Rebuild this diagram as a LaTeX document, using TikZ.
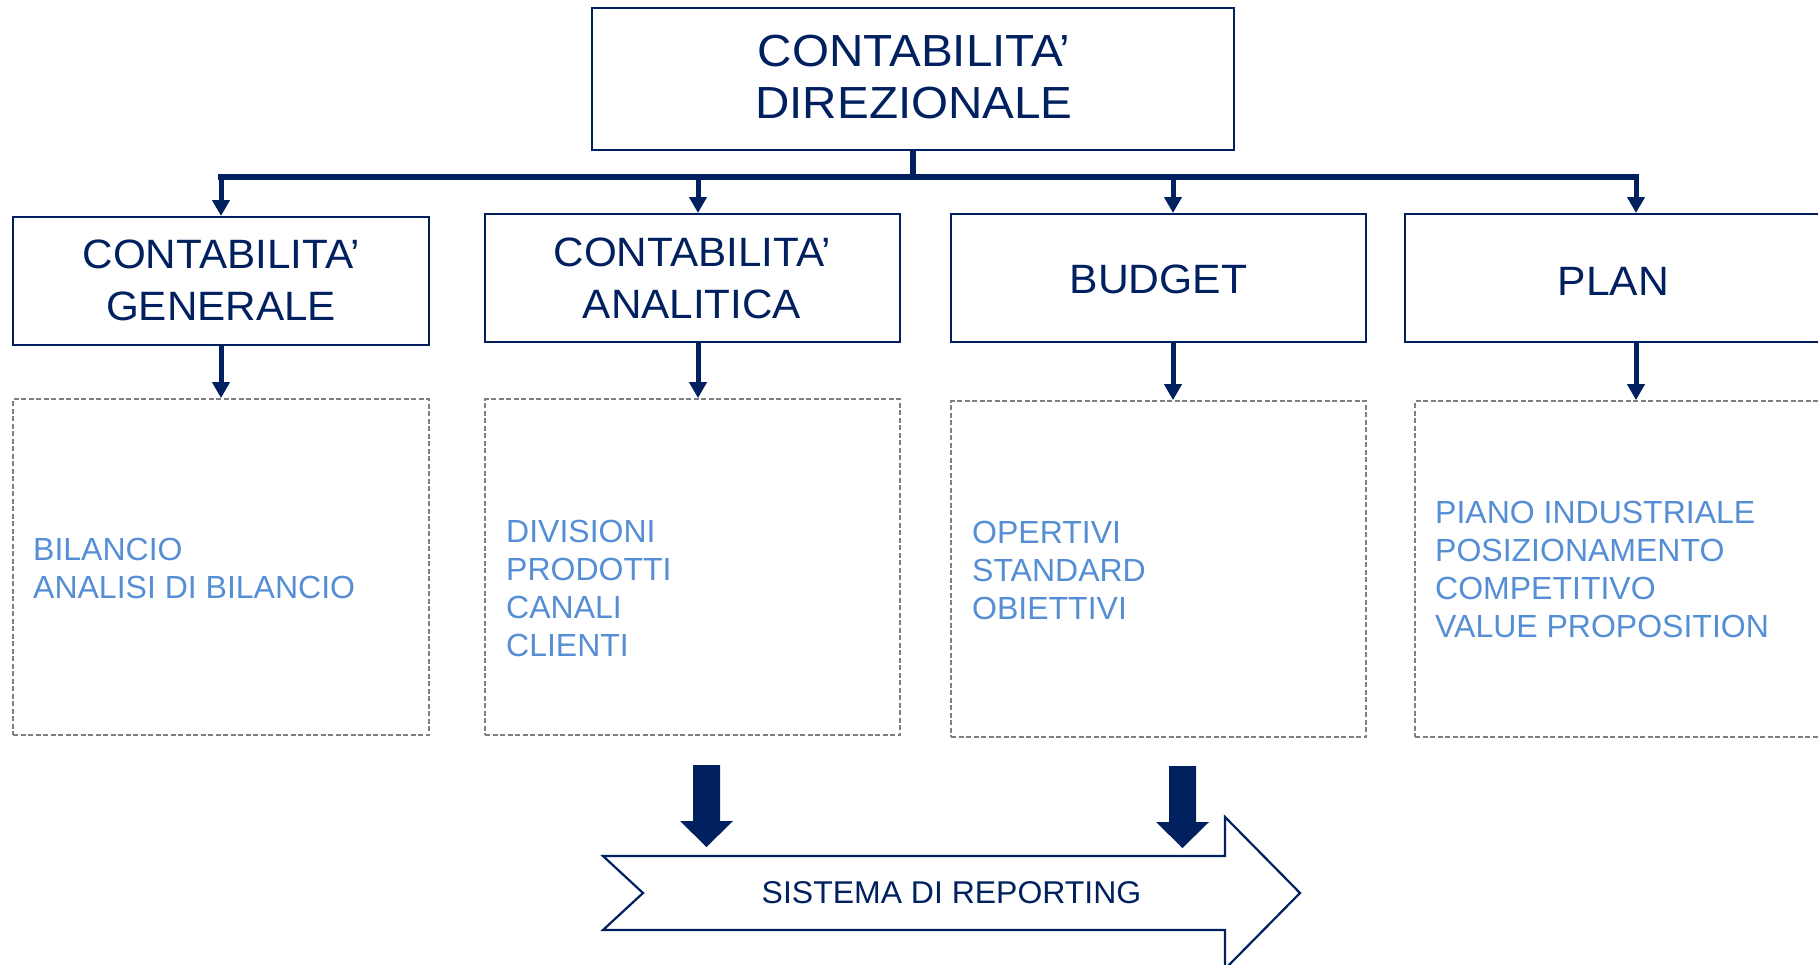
\documentclass[tikz,border=0pt]{standalone}
\usepackage{fontspec}
\setmainfont{Liberation Sans}
\usetikzlibrary{arrows.meta}
\definecolor{navy}{HTML}{002060}
\definecolor{lblue}{HTML}{558ED5}
\definecolor{dgray}{HTML}{808080}
\newcommand{\ctrlines}[2]{\parbox[t]{#1}{\centering #2}}
\newcommand{\leftlines}[1]{\parbox[t]{520pt}{\raggedright #1}}
\newcommand{\wide}[2]{\scalebox{#1}[1]{#2}}
\newcommand{\blockarrow}[1]{\fill[navy] (#1) ++(-13.5,0) -- ++(27,0) -- ++(0,56) -- ++(13,0) -- ++(-26.5,26) -- ++(-26.5,-26) -- ++(13,0) -- cycle;}
\begin{document}
\begin{tikzpicture}[x=1pt,y=-1pt,
  box/.style={draw=navy, line width=2pt, fill=white, inner sep=0pt},
  dbox/.style={draw=dgray, line width=1.8pt, dash pattern=on 5pt off 2.5pt, inner sep=0pt},
  ttl/.style={text=navy, inner sep=0pt, anchor=base},
  itm/.style={text=lblue, inner sep=0pt, anchor=base west, font=\fontsize{32}{38}\selectfont},
  conn/.style={draw=navy, line width=5pt, -{Triangle[width=17pt,length=16pt]}},
  bar/.style={draw=navy, line width=5.5pt},
]
\useasboundingbox (0,0) rectangle (1818,964);
\clip (0,0) rectangle (1818,964);

% boxes
\node[box, minimum width=642, minimum height=142] (top) at (913,79) {};
\node[box, minimum width=416, minimum height=128] (cg) at (221,281) {};
\node[box, minimum width=415, minimum height=128] (ca) at (692.5,278) {};
\node[box, minimum width=415, minimum height=128] (bu) at (1158.5,278) {};
\node[box, minimum width=416, minimum height=128] (pl) at (1613,278) {};

\node[dbox, minimum width=416, minimum height=336] (d1) at (221,567) {};
\node[dbox, minimum width=415, minimum height=336] (d2) at (692.5,567) {};
\node[dbox, minimum width=415, minimum height=336] (d3) at (1158.5,569) {};
\node[dbox, minimum width=416, minimum height=336] (d4) at (1623,569) {};

% bus
\coordinate (j1) at (221,177);
\coordinate (j2) at (698,177);
\coordinate (j3) at (1173,177);
\coordinate (j4) at (1636,177);
\draw[bar] (top.south) -- (top.south |- j1);
\draw[bar, line cap=rect] (j1) -- (j4);
\draw[conn] (j1) -- (j1 |- cg.north);
\draw[conn] (j2) -- (j2 |- ca.north);
\draw[conn] (j3) -- (j3 |- bu.north);
\draw[conn] (j4) -- (j4 |- pl.north);
\draw[conn] (j1 |- cg.south) -- (j1 |- d1.north);
\draw[conn] (j2 |- ca.south) -- (j2 |- d2.north);
\draw[conn] (j3 |- bu.south) -- (j3 |- d3.north);
\draw[conn] (j4 |- pl.south) -- (j4 |- d4.north);

% titles
\node[ttl, font=\fontsize{45}{52}\selectfont] (toptxt) at (914,66) {\wide{1.058}{\ctrlines{580pt}{CONTABILITA’\\DIREZIONALE}}};
\node[ttl, font=\fontsize{41}{52}\selectfont] (cgtxt) at (221,268) {\wide{1.03}{\ctrlines{390pt}{CONTABILITA’\\GENERALE}}};
\node[ttl, font=\fontsize{41}{52}\selectfont] (catxt) at (692,266) {\wide{1.03}{\ctrlines{390pt}{CONTABILITA’\\ANALITICA}}};
\node[ttl, font=\fontsize{41}{52}\selectfont] (butxt) at (1158.5,293) {\wide{1.04}{BUDGET}};
\node[ttl, font=\fontsize{41}{52}\selectfont] (pltxt) at (1613.5,295) {\wide{1.04}{PLAN}};

% items
\node[itm] (t1) at (33,560) {\leftlines{BILANCIO\\ANALISI DI BILANCIO}};
\node[itm] (t2) at (506,542) {\leftlines{DIVISIONI\\PRODOTTI\\CANALI\\CLIENTI}};
\node[itm] (t3) at (972,543) {\leftlines{OPERTIVI\\STANDARD\\OBIETTIVI}};
\node[itm] (t4) at (1435,523) {\leftlines{PIANO INDUSTRIALE\\POSIZIONAMENTO\\COMPETITIVO\\VALUE PROPOSITION}};

% reporting arrow
\draw[navy, line width=2.2pt, fill=white, line join=miter] (603,856) -- (1225,856) -- (1225,817) -- (1300,893) -- (1225,969) -- (1225,930) -- (603,930) -- (643,893) -- cycle;
\node[ttl, font=\fontsize{31.5}{38}\selectfont] (rep) at (951.5,903) {\wide{1.015}{SISTEMA DI REPORTING}};

\coordinate (ba1) at (706.5,765);
\coordinate (ba2) at (1182.5,766);
\blockarrow{ba1}
\blockarrow{ba2}
\end{tikzpicture}
\end{document}
